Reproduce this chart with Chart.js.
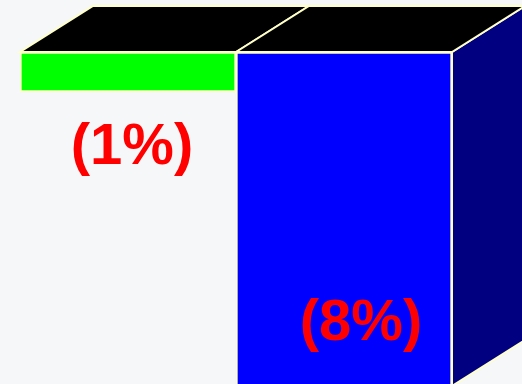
<!DOCTYPE html>
<html>
<head>
<meta charset="utf-8">
<script src="https://cdn.jsdelivr.net/npm/chart.js@4"></script>
<style>
  html, body { margin: 0; padding: 0; background: #f6f7f8; }
  #wrap { width: 522px; height: 384px; }
</style>
</head>
<body>
<div id="wrap"><canvas id="chart"></canvas></div>
<script>
let categories = ['A', 'B'];
let barStarts = [0, 0];
let barEnds = [-1, -8.35];
let barLabels = ['(1%)', '(8%)'];
let frontColors = ['#00ff00', '#0000ff'];
let sideColors = ['#008000', '#000080'];

const edgeColor = '#ffffc8';
const depthX = 73;
const depthY = -46;

// side + top faces, drawn before the front faces
const depthPlugin = {
    id: 'depth',
    beforeDatasetsDraw(chart) {
        const ctx = chart.ctx;
        const bars = chart.getDatasetMeta(0).data;
        ctx.save();
        ctx.lineWidth = 2;
        ctx.strokeStyle = edgeColor;
        bars.forEach((bar, i) => {
            const left = bar.x - bar.width / 2;
            const right = bar.x + bar.width / 2;
            const top = Math.min(bar.y, bar.base);
            const bottom = Math.max(bar.y, bar.base);

            ctx.beginPath();
            ctx.moveTo(right, top);
            ctx.lineTo(right + depthX, top + depthY);
            ctx.lineTo(right + depthX, bottom + depthY);
            ctx.lineTo(right, bottom);
            ctx.closePath();
            ctx.fillStyle = sideColors[i];
            ctx.fill();
            ctx.stroke();

            ctx.beginPath();
            ctx.moveTo(left, top);
            ctx.lineTo(left + depthX, top + depthY);
            ctx.lineTo(right + depthX, top + depthY);
            ctx.lineTo(right, top);
            ctx.closePath();
            ctx.fillStyle = '#000000';
            ctx.fill();
            ctx.stroke();
        });
        ctx.restore();
    },
    afterDatasetsDraw(chart) {
        const ctx = chart.ctx;
        const bars = chart.getDatasetMeta(0).data;
        ctx.save();
        ctx.font = 'bold 58px "Liberation Sans", Arial, sans-serif';
        ctx.fillStyle = '#ff0000';
        ctx.textAlign = 'center';
        ctx.textBaseline = 'middle';
        // first label sits under its bar, second inside near the bottom
        const b0 = bars[0];
        ctx.fillText(barLabels[0], b0.x + 4, Math.max(b0.y, b0.base) + 56);
        const b1 = bars[1];
        ctx.fillText(barLabels[1], b1.x + 17, Math.min(b1.y, b1.base) + 272);
        ctx.restore();
    }
};

const chart = new Chart(document.getElementById('chart'), {
    type: 'bar',
    data: {
        labels: categories,
        datasets: [{
            data: barStarts.map((s, i) => [s, barEnds[i]]),
            backgroundColor: frontColors,
            borderColor: edgeColor,
            borderWidth: 2,
            borderSkipped: false,
            barPercentage: 1,
            categoryPercentage: 1
        }]
    },
    options: {
        responsive: true,
        maintainAspectRatio: false,
        animation: false,
        layout: { padding: { left: 20, right: 70, top: 52, bottom: 0 } },
        plugins: { legend: { display: false }, tooltip: { enabled: false } },
        scales: {
            x: { display: false },
            y: { display: false, min: -8.3, max: 0 }
        }
    },
    plugins: [depthPlugin]
});
</script>
</body>
</html>
